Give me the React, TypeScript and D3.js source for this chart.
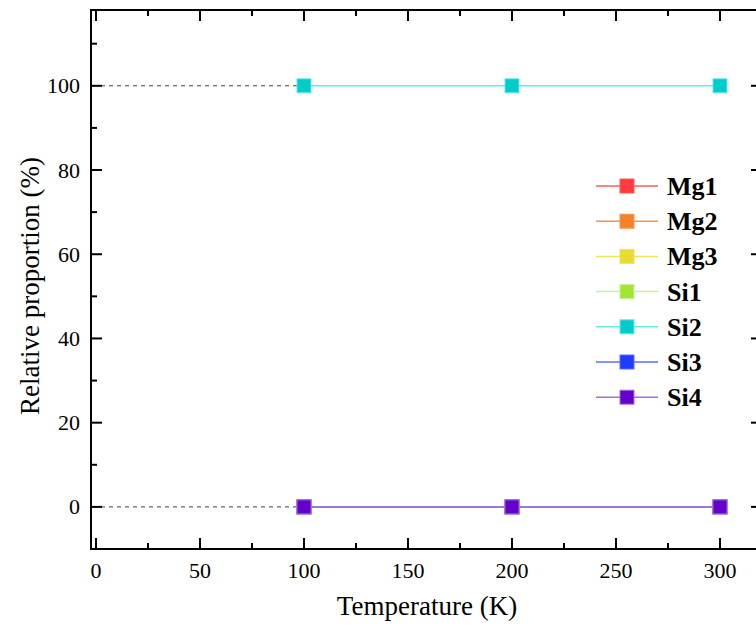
import React from "react";
import * as d3 from "d3";

const temperatures = [100, 200, 300];
const seriesNames = ["Mg1", "Mg2", "Mg3", "Si1", "Si2", "Si3", "Si4"];
const mg1 = [0, 0, 0];
const mg2 = [0, 0, 0];
const mg3 = [0, 0, 0];
const si1 = [0, 0, 0];
const si2 = [100, 100, 100];
const si3 = [0, 0, 0];
const si4 = [0, 0, 0];
const seriesValues = [mg1, mg2, mg3, si1, si2, si3, si4];
const markerColors = ["#FF3B3B", "#F5822A", "#E6DC32", "#A3E632", "#00CCCC", "#1E3CFF", "#6600CC"];
const lineColors = ["#FF5A5A", "#F8964A", "#EDE45A", "#C8F096", "#66E8E8", "#5A6EFF", "#A070E0"];
const xTicks = [0, 50, 100, 150, 200, 250, 300];
const xMinor = [25, 75, 125, 175, 225, 275];
const yTicks = [0, 20, 40, 60, 80, 100];
const yMinor = [10, 30, 50, 70, 90, 110];

const W = 756, H = 633;
const left = 91, right = 762, top = 10, bottom = 549;
const tf: React.CSSProperties = { fontFamily: "\"Liberation Serif\"" };

export default function App() {
  const x = d3.scaleLinear().domain([-2.4, 320.2]).range([left, right]);
  const y = d3.scaleLinear().domain([-10, 118]).range([bottom, top]);
  const line = d3.line<number>().x((_, i) => x(temperatures[i])).y(d => y(d));
  const ms = 14;

  return (
    <svg width={W} height={H} style={{ position: "absolute", left: 0, top: 0, background: "#fff" }}>
      {/* dashed guides from axis to first point */}
      {[0, 100].map(v => (
        <line key={"g" + v} x1={left + 2} x2={x(temperatures[0])} y1={y(v)} y2={y(v)}
          stroke="#444" strokeWidth={1} strokeDasharray="4,4" />
      ))}
      {/* series */}
      {seriesValues.map((vals, i) => (
        <g key={seriesNames[i]}>
          <path d={line(vals) || ""} fill="none" stroke={lineColors[i]} strokeWidth={1.5} />
          {vals.map((v, j) => (
            <rect key={j} x={x(temperatures[j]) - ms / 2} y={y(v) - ms / 2} width={ms} height={ms}
              fill={markerColors[i]} stroke={lineColors[i]} strokeWidth={1} />
          ))}
        </g>
      ))}
      {/* axes frame */}
      <line x1={left} x2={left} y1={top} y2={bottom + 1} stroke="#000" strokeWidth={2} />
      <line x1={right} x2={right} y1={top} y2={bottom + 1} stroke="#000" strokeWidth={2} />
      <line x1={left - 1} x2={right} y1={bottom} y2={bottom} stroke="#000" strokeWidth={2} />
      <line x1={left - 1} x2={right} y1={top} y2={top} stroke="#000" strokeWidth={2} />
      {/* x ticks */}
      {xTicks.map(t => (
        <g key={"xt" + t}>
          <line x1={x(t)} x2={x(t)} y1={bottom} y2={bottom - 11} stroke="#000" strokeWidth={2} />
          <line x1={x(t)} x2={x(t)} y1={top} y2={top + 11} stroke="#000" strokeWidth={2} />
          <text x={x(t)} y={578} fontSize={22} textAnchor="middle" fill="#000" style={tf}>{t}</text>
        </g>
      ))}
      {xMinor.map(t => (
        <g key={"xm" + t}>
          <line x1={x(t)} x2={x(t)} y1={bottom} y2={bottom - 6} stroke="#000" strokeWidth={2} />
          <line x1={x(t)} x2={x(t)} y1={top} y2={top + 6} stroke="#000" strokeWidth={2} />
        </g>
      ))}
      {/* y ticks */}
      {yTicks.map(t => (
        <g key={"yt" + t}>
          <line x1={left} x2={left + 11} y1={y(t)} y2={y(t)} stroke="#000" strokeWidth={2} />
          <line x1={right} x2={right - 11} y1={y(t)} y2={y(t)} stroke="#000" strokeWidth={2} />
          <text x={80} y={y(t) + 7.5} fontSize={22} textAnchor="end" fill="#000" style={tf}>{t}</text>
        </g>
      ))}
      {yMinor.map(t => (
        <g key={"ym" + t}>
          <line x1={left} x2={left + 6} y1={y(t)} y2={y(t)} stroke="#000" strokeWidth={2} />
          <line x1={right} x2={right - 6} y1={y(t)} y2={y(t)} stroke="#000" strokeWidth={2} />
        </g>
      ))}
      {/* axis titles */}
      <text x={427} y={615} fontSize={27} textAnchor="middle" fill="#000" style={tf}>Temperature (K)</text>
      <text transform="translate(39,286) rotate(-90)" fontSize={27}
        textAnchor="middle" fill="#000" style={tf}>Relative proportion (%)</text>
      {/* legend */}
      {seriesNames.map((n, i) => {
        const cy = 186 + i * 35.2;
        return (
          <g key={"lg" + n}>
            <line x1={596} x2={658} y1={cy} y2={cy} stroke={lineColors[i]} strokeWidth={1.5} />
            <rect x={627 - ms / 2} y={cy - ms / 2} width={ms} height={ms} fill={markerColors[i]}
              stroke={lineColors[i]} strokeWidth={1} />
            <text x={667} y={cy + 9} fontSize={26} fontWeight="bold" fill="#000" style={tf}>{n}</text>
          </g>
        );
      })}
    </svg>
  );
}
